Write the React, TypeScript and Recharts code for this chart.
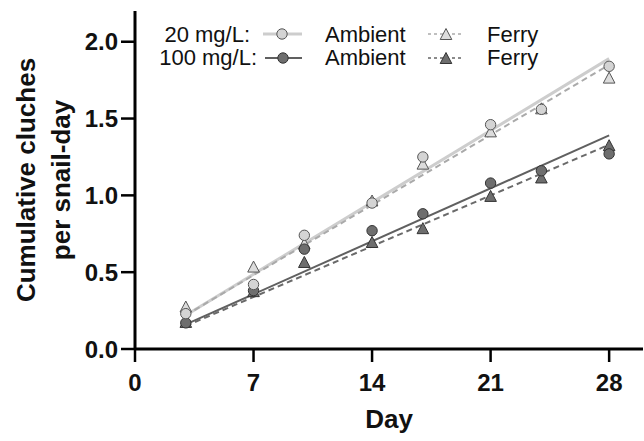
import * as React from "react";
import {
  ComposedChart,
  Scatter,
  Line,
  XAxis,
  YAxis
} from "recharts";

const days = [3, 7, 10, 14, 17, 21, 24, 28];
const ambient20 = [0.23, 0.42, 0.74, 0.95, 1.25, 1.46, 1.56, 1.84];
const ferry20 = [0.27, 0.53, 0.68, 0.96, 1.2, 1.41, 1.56, 1.76];
const ambient100 = [0.17, 0.38, 0.65, 0.77, 0.88, 1.08, 1.16, 1.27];
const ferry100 = [0.17, 0.37, 0.56, 0.69, 0.78, 0.99, 1.11, 1.32];

// regression line end points (day 3 and day 28)
const fitDays = [3, 28];
const fitAmbient20 = [0.22, 1.89];
const fitFerry20 = [0.22, 1.85];
const fitAmbient100 = [0.16, 1.39];
const fitFerry100 = [0.15, 1.33];

const xTicks = [0, 7, 14, 21, 28];
const yTicks = [0, 0.5, 1, 1.5, 2];

const FONT = "'Liberation Sans', Arial, sans-serif";

const toRows = (xs: number[], ys: number[]) =>
  ys.map((y, i) => ({ day: xs[i], y }));

const LIGHT_FILL = "#d4d4d4";
const LIGHT_EDGE = "#555";
const DARK_FILL = "#6e6e6e";
const DARK_EDGE = "#333";

const circleShape = (fill: string, edge: string) => (p: any) =>
  <circle cx={p.cx} cy={p.cy} r={5.2} fill={fill} stroke={edge} strokeWidth={1} />;

const triPoints = (cx: number, cy: number) =>
  `${cx},${cy - 6.5} ${cx - 5.8},${cy + 4.5} ${cx + 5.8},${cy + 4.5}`;

const triangleShape = (fill: string, edge: string) => (p: any) =>
  <polygon points={triPoints(p.cx, p.cy)} fill={fill} stroke={edge} strokeWidth={1} />;

const YTitle = (props: any) => {
  const vb = props.viewBox || { x: 0, y: 0, width: 0, height: 0 };
  const cy = vb.y + vb.height / 2;
  return (
    <g fontFamily={FONT} fontWeight="bold" fontSize={26} fill="#111">
      <text x={35} y={cy} textAnchor="middle" transform={`rotate(-90, 35, ${cy})`}>
        Cumulative cluches
      </text>
      <text x={70} y={cy} textAnchor="middle" transform={`rotate(-90, 70, ${cy})`}>
        per snail-day
      </text>
    </g>
  );
};

const XTitle = (props: any) => {
  const vb = props.viewBox || { x: 0, y: 0, width: 0, height: 0 };
  return (
    <text
      x={vb.x + vb.width / 2}
      y={428}
      textAnchor="middle"
      fontFamily={FONT}
      fontWeight="bold"
      fontSize={26}
      fill="#111"
    >
      Day
    </text>
  );
};

const LegendBox = () => (
  <svg
    width={644}
    height={80}
    style={{ position: "absolute", left: 0, top: 0, pointerEvents: "none" }}
  >
    <g fontFamily={FONT} fontSize={22} fill="#111">
      <text x={250} y={42} textAnchor="end">20 mg/L:</text>
      <text x={257} y={65} textAnchor="end">100 mg/L:</text>
      <text x={325} y={42}>Ambient</text>
      <text x={325} y={65}>Ambient</text>
      <text x={487} y={42}>Ferry</text>
      <text x={487} y={65}>Ferry</text>
    </g>
    <line x1={263} x2={302} y1={34} y2={34} stroke="#cdcdcd" strokeWidth={3} />
    <circle cx={282} cy={34} r={5.2} fill={LIGHT_FILL} stroke={LIGHT_EDGE} />
    <line x1={265} x2={302} y1={58} y2={58} stroke="#606060" strokeWidth={2} />
    <circle cx={283} cy={58} r={5.2} fill={DARK_FILL} stroke={DARK_EDGE} />
    <line x1={428} x2={464} y1={34} y2={34} stroke="#aaa" strokeWidth={1.5} strokeDasharray="3 3" />
    <polygon points={triPoints(446, 35)} fill="#dcdcdc" stroke={LIGHT_EDGE} />
    <line x1={428} x2={464} y1={58} y2={58} stroke="#666" strokeWidth={1.5} strokeDasharray="3 3" />
    <polygon points={triPoints(446, 59)} fill={DARK_FILL} stroke={DARK_EDGE} />
  </svg>
);

export default function App() {
  return (
    <div style={{ position: "absolute", left: 0, top: 0, width: 644, height: 441, background: "#fff" }}>
      <ComposedChart
        width={644}
        height={441}
        margin={{ top: 11, right: 1, bottom: 0, left: 0 }}
      >
        <XAxis
          dataKey="day"
          type="number"
          domain={[0, 30]}
          ticks={xTicks}
          allowDataOverflow
          height={92}
          tickSize={13}
          tickMargin={12}
          axisLine={{ stroke: "#000", strokeWidth: 3 }}
          tickLine={{ stroke: "#000", strokeWidth: 2.5 }}
          tick={{ fontFamily: FONT, fontWeight: "bold", fontSize: 24, fill: "#111" }}
          label={<XTitle />}
        />
        <YAxis
          dataKey="y"
          type="number"
          domain={[0, 2.2]}
          ticks={yTicks}
          allowDataOverflow
          width={135}
          tickSize={14}
          tickMargin={3}
          tickFormatter={(v: number) => v.toFixed(1)}
          axisLine={{ stroke: "#000", strokeWidth: 3 }}
          tickLine={{ stroke: "#000", strokeWidth: 2.5 }}
          tick={{ fontFamily: FONT, fontWeight: "bold", fontSize: 24, fill: "#111" }}
          label={<YTitle />}
        />
        <Line
          data={toRows(fitDays, fitAmbient20)}
          dataKey="y"
          type="linear"
          stroke="#cdcdcd"
          strokeWidth={3}
          dot={false}
          activeDot={false}
          isAnimationActive={false}
        />
        <Line
          data={toRows(fitDays, fitFerry20)}
          dataKey="y"
          type="linear"
          stroke="#aaa"
          strokeWidth={2}
          strokeDasharray="6 4"
          dot={false}
          activeDot={false}
          isAnimationActive={false}
        />
        <Line
          data={toRows(fitDays, fitAmbient100)}
          dataKey="y"
          type="linear"
          stroke="#606060"
          strokeWidth={2}
          dot={false}
          activeDot={false}
          isAnimationActive={false}
        />
        <Line
          data={toRows(fitDays, fitFerry100)}
          dataKey="y"
          type="linear"
          stroke="#6a6a6a"
          strokeWidth={2}
          strokeDasharray="6 4"
          dot={false}
          activeDot={false}
          isAnimationActive={false}
        />
        <Scatter
          data={toRows(days, ferry100)}
          dataKey="y"
          shape={triangleShape(DARK_FILL, DARK_EDGE)}
          isAnimationActive={false}
        />
        <Scatter
          data={toRows(days, ferry20)}
          dataKey="y"
          shape={triangleShape("#dcdcdc", LIGHT_EDGE)}
          isAnimationActive={false}
        />
        <Scatter
          data={toRows(days, ambient100)}
          dataKey="y"
          shape={circleShape(DARK_FILL, DARK_EDGE)}
          isAnimationActive={false}
        />
        <Scatter
          data={toRows(days, ambient20)}
          dataKey="y"
          shape={circleShape(LIGHT_FILL, LIGHT_EDGE)}
          isAnimationActive={false}
        />
      </ComposedChart>
      <LegendBox />
    </div>
  );
}
